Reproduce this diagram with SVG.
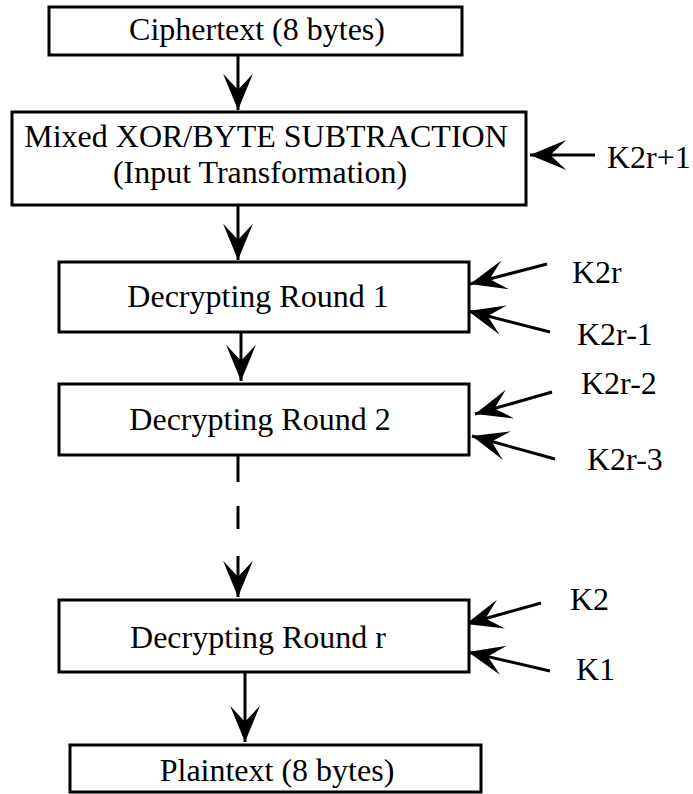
<svg xmlns="http://www.w3.org/2000/svg" width="693" height="794" viewBox="0 0 693 794">
<style>
.box{fill:#fff;stroke:#000;stroke-width:3}
.t{font-family:"Liberation Serif","Times New Roman",serif;font-size:32px;fill:#000}
.c{text-anchor:middle}
.ln{stroke:#000;stroke-width:3;fill:none}
</style>
<defs>
<marker id="ah" markerUnits="userSpaceOnUse" markerWidth="40" markerHeight="32" viewBox="-35 -15 37 30" refX="0" refY="0" orient="auto">
<path d="M0,0 L-34,-14 L-19,0 L-34,14 Z" fill="#000"/>
</marker>
</defs>
<rect width="693" height="794" fill="#fff"/>
<g id="connectors">
<line class="ln" x1="238" y1="55" x2="238" y2="110" marker-end="url(#ah)"/>
<line class="ln" x1="238" y1="205" x2="238" y2="260" marker-end="url(#ah)"/>
<line class="ln" x1="241" y1="332" x2="241" y2="381" marker-end="url(#ah)"/>
<line class="ln" x1="238" y1="455" x2="238" y2="482"/>
<line class="ln" x1="238" y1="506" x2="238" y2="529"/>
<line class="ln" x1="238" y1="556" x2="238" y2="597" marker-end="url(#ah)"/>
<line class="ln" x1="245" y1="672" x2="245" y2="742" marker-end="url(#ah)"/>
<line class="ln" x1="595" y1="155" x2="530" y2="155" marker-end="url(#ah)"/>
<line class="ln" x1="547" y1="264" x2="470" y2="284" marker-end="url(#ah)"/>
<line class="ln" x1="550" y1="332" x2="468" y2="311" marker-end="url(#ah)"/>
<line class="ln" x1="552" y1="392" x2="475" y2="414" marker-end="url(#ah)"/>
<line class="ln" x1="555" y1="459" x2="472" y2="436" marker-end="url(#ah)"/>
<line class="ln" x1="541" y1="603" x2="466" y2="624" marker-end="url(#ah)"/>
<line class="ln" x1="550" y1="671" x2="468" y2="652" marker-end="url(#ah)"/>
</g>
<g id="ciphertext">
<rect class="box" x="49" y="7" width="413" height="48"/>
<text class="t c" x="257" y="40">Ciphertext (8 bytes)</text>
</g>
<g id="input-transformation">
<rect class="box" x="12" y="112" width="514" height="93"/>
<text class="t c" x="266" y="147">Mixed XOR/BYTE SUBTRACTION</text>
<text class="t c" x="260" y="183">(Input Transformation)</text>
</g>
<g id="round1">
<rect class="box" x="59" y="262" width="410" height="70"/>
<text class="t c" x="258" y="307">Decrypting Round 1</text>
</g>
<g id="round2">
<rect class="box" x="59" y="384" width="410" height="71"/>
<text class="t c" x="260" y="430">Decrypting Round 2</text>
</g>
<g id="roundr">
<rect class="box" x="59" y="600" width="410" height="72"/>
<text class="t c" x="258" y="648">Decrypting Round r</text>
</g>
<g id="plaintext">
<rect class="box" x="70" y="745" width="411" height="47"/>
<text class="t c" x="277" y="781">Plaintext (8 bytes)</text>
</g>
<g id="keys">
<text class="t" x="607" y="168">K2r+1</text>
<text class="t" x="572" y="283">K2r</text>
<text class="t" x="577" y="345">K2r-1</text>
<text class="t" x="581" y="394">K2r-2</text>
<text class="t" x="587" y="470">K2r-3</text>
<text class="t" x="570" y="610">K2</text>
<text class="t" x="576" y="680">K1</text>
</g>
</svg>
